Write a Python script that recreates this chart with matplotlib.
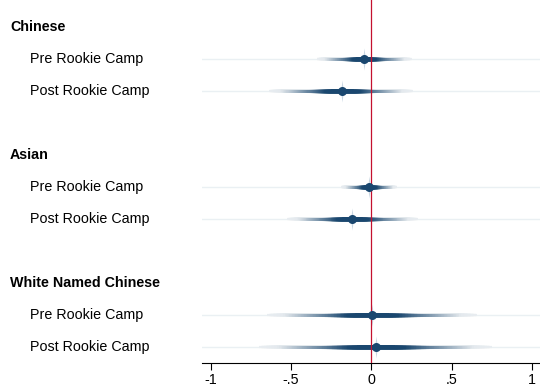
import numpy as np
import matplotlib.pyplot as plt
from matplotlib.path import Path
from matplotlib.transforms import blended_transform_factory

plt.rcParams['font.family'] = ['Liberation Sans', 'DejaVu Sans']

# groups and rows
groups = ['Chinese', 'Asian', 'White Named Chinese']
row_labels = ['Pre Rookie Camp', 'Post Rookie Camp']

# point estimates (pre, post) per group
est = [[-0.048, -0.18],
       [-0.017, -0.12],
       [0.003, 0.03]]
# outer confidence bounds
lo = [[-0.34, -0.64],
      [-0.19, -0.525],
      [-0.65, -0.70]]
hi = [[0.25, 0.26],
      [0.16, 0.29],
      [0.66, 0.75]]

xticks = [-1, -0.5, 0, 0.5, 1]
xticklabels = ['-1', '-.5', '0', '.5', '1']

navy = np.array([0x1a, 0x47, 0x6f]) / 255.0
spike = Path([(0, 1), (0.12, 0), (0, -1), (-0.12, 0), (0, 1)])

fig = plt.figure(figsize=(5.4, 3.87), dpi=100)
ax = fig.add_axes([202 / 540, 1 - 363 / 387, 338 / 540, 363 / 387])

# nested CI lines, widest (light, thin) first, narrowest (dark, thick) last
shares = np.linspace(1.0, 0.02, 70)
for g in range(len(groups)):
    for r in range(len(row_labels)):
        y = g * 4 + r + 1
        ax.axhline(y, color='#eaf0f3', lw=1.0, zorder=0)
        b = est[g][r]
        hl, hr = b - lo[g][r], hi[g][r] - b
        for d in shares:
            v = np.interp(d, [0, 0.25, 0.85, 1.0], [1.0, 1.0, 0.12, 0.1])
            col = 1 - v * (1 - navy)
            ax.plot([b - d * hl, b + d * hr], [y, y], color=col,
                    lw=2.7 - 1.1 * d, solid_capstyle='butt', zorder=2)
        ax.plot(b, y, marker=spike, ms=16, color='#c9d6e2', mew=0, zorder=3)
        ax.plot(b, y, marker='o', ms=6.5, color=navy, mew=0, zorder=5)

ax.axvline(0, color='#c4112f', lw=0.9, zorder=4)

ax.set_xlim(-1.055, 1.05)
ax.set_ylim(10.5, -0.84)
ax.set_yticks([])
ax.set_xticks(xticks)
ax.set_xticklabels(xticklabels, fontsize=10.3)
ax.tick_params(axis='x', length=5, width=0.8, pad=2)
for s in ['top', 'right', 'left']:
    ax.spines[s].set_visible(False)
ax.spines['bottom'].set_linewidth(0.8)

tr = blended_transform_factory(fig.transFigure, ax.transData)
for g, name in enumerate(groups):
    ax.text(10 / 540, g * 4, name, transform=tr, fontsize=10.3, fontweight='bold',
            va='center', ha='left')
    for r, lab in enumerate(row_labels):
        ax.text(30 / 540, g * 4 + r + 1, lab, transform=tr, fontsize=10.3,
                va='center', ha='left')

fig.savefig('out.png', dpi=100)
